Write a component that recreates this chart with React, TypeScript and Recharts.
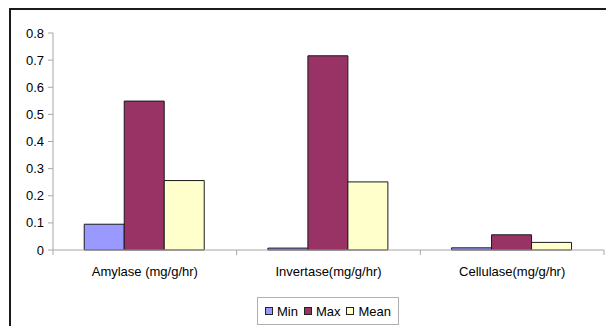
import React from "react";
import { BarChart, Bar, XAxis, YAxis, Legend } from "recharts";

const categories = ["Amylase (mg/g/hr)", "Invertase(mg/g/hr)", "Cellulase(mg/g/hr)"];
const minValues = [0.095, 0.007, 0.008];
const maxValues = [0.549, 0.716, 0.056];
const meanValues = [0.256, 0.251, 0.028];
const yTicks = [0, 0.1, 0.2, 0.3, 0.4, 0.5, 0.6, 0.7, 0.8];

const series = [
  { key: "Min", values: minValues, color: "#9999FF" },
  { key: "Max", values: maxValues, color: "#993366" },
  { key: "Mean", values: meanValues, color: "#FFFFCC" },
];

const data = categories.map((name, i) => {
  const row: Record<string, string | number> = { name };
  series.forEach((s) => {
    row[s.key] = s.values[i];
  });
  return row;
});

const FONT = "'Liberation Sans', Arial, sans-serif";
const AXIS_GRAY = "#a6a6a6";
const PLOT_LEFT = 53;
const PLOT_RIGHT = 604;
const BAND = (PLOT_RIGHT - PLOT_LEFT) / categories.length;

const CategoryTick = (props: any) => {
  const { x, y, payload, index } = props;
  return (
    <g>
      <line x1={x - BAND / 2} x2={x - BAND / 2} y1={y} y2={y + 5} stroke={AXIS_GRAY} />
      {index === categories.length - 1 && (
        <line x1={x + BAND / 2} x2={x + BAND / 2} y1={y} y2={y + 5} stroke={AXIS_GRAY} />
      )}
      <text x={x} y={y + 26} textAnchor="middle" fontSize={13} fontFamily={FONT} fill="#000">
        {payload.value}
      </text>
    </g>
  );
};

const LegendBox = () => (
  <div
    style={{
      display: "flex",
      alignItems: "center",
      justifyContent: "center",
      gap: 6,
      boxSizing: "border-box",
      width: 142,
      height: 28,
      border: "1px solid #b0b0b0",
      background: "#fff",
      fontFamily: FONT,
      fontSize: 13,
      color: "#000",
    }}
  >
    {series.map((s) => (
      <span key={s.key} style={{ display: "flex", alignItems: "center", gap: 4 }}>
        <span
          style={{
            display: "inline-block",
            width: 6,
            height: 6,
            background: s.color,
            border: "1px solid #222",
          }}
        />
        {s.key}
      </span>
    ))}
  </div>
);

export default function App() {
  return (
    <div style={{ position: "absolute", left: 0, top: 0, width: 606, height: 326, background: "#fff", overflow: "hidden" }}>
      <div
        style={{
          position: "absolute",
          left: 9,
          top: 8,
          width: 620,
          height: 340,
          borderTop: "2px solid #1a1a1a",
          borderLeft: "2px solid #1a1a1a",
        }}
      />
      <BarChart
        width={606}
        height={326}
        data={data}
        margin={{ top: 33, right: 606 - PLOT_RIGHT, bottom: 0, left: 0 }}
        barCategoryGap="17%"
        barGap={0}
        style={{ position: "absolute", left: 0, top: 0 }}
      >
        <XAxis
          dataKey="name"
          height={76}
          axisLine={{ stroke: AXIS_GRAY }}
          tickLine={false}
          tickSize={0}
          tickMargin={0}
          tick={<CategoryTick />}
          interval={0}
        />
        <YAxis
          width={PLOT_LEFT}
          domain={[0, 0.8]}
          ticks={yTicks}
          interval={0}
          axisLine={{ stroke: AXIS_GRAY }}
          tickLine={{ stroke: AXIS_GRAY }}
          tickSize={5}
          tickMargin={4}
          tick={{ fontSize: 13, fontFamily: FONT, fill: "#000" }}
        />
        <Legend
          layout="horizontal"
          verticalAlign="middle"
          align="center"
          wrapperStyle={{ position: "absolute", left: 257, top: 297, width: 142, height: 28 }}
          content={<LegendBox />}
        />
        {series.map((s) => (
          <Bar
            key={s.key}
            dataKey={s.key}
            fill={s.color}
            stroke="#1a1a1a"
            strokeWidth={1}
            isAnimationActive={false}
          />
        ))}
      </BarChart>
    </div>
  );
}
